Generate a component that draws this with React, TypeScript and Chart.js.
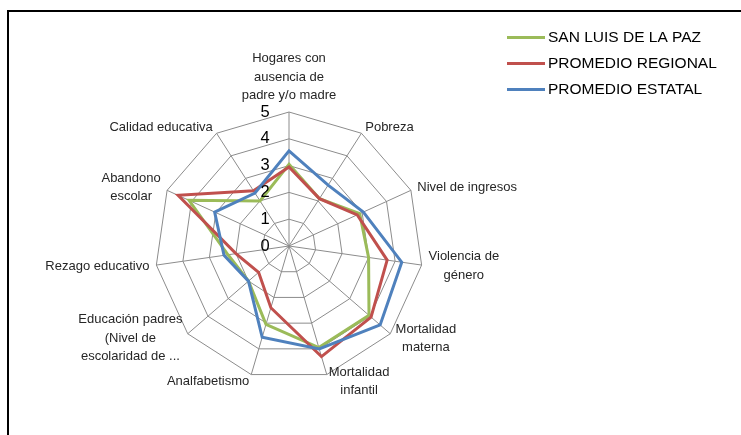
import React, { useEffect, useRef } from "react";
import { Chart, registerables } from "chart.js";

Chart.register(...registerables);

const categories: (string | string[])[] = [
  ["Hogares con", "ausencia de", "padre y/o madre"],
  "Pobreza",
  "Nivel de ingresos",
  ["Violencia de", "género"],
  ["Mortalidad", "materna"],
  ["Mortalidad", "infantil"],
  "Analfabetismo",
  ["Educación padres", "(Nivel de", "escolaridad de ..."],
  "Rezago educativo",
  ["Abandono", "escolar"],
  "Calidad educativa",
];

const seriesNames = ["SAN LUIS DE LA PAZ", "PROMEDIO REGIONAL", "PROMEDIO ESTATAL"];
const sanLuisValues = [3.05, 2.1, 2.9, 3.0, 3.95, 3.95, 3.05, 2.0, 2.3, 4.1, 2.0];
const regionalValues = [2.95, 2.1, 2.8, 3.7, 4.05, 4.3, 2.4, 1.5, 2.0, 4.55, 2.45];
const estatalValues = [3.55, 2.7, 3.05, 4.25, 4.5, 4.0, 3.55, 2.0, 2.45, 3.05, 2.35];
const tickValues = [0, 1, 2, 3, 4, 5];
const seriesColors = ["#9BBB59", "#C0504D", "#4F81BD"];

const FONT = "'Liberation Sans', Arial, sans-serif";

const excelLabels = {
  id: "excelLabels",
  afterDraw(chart: any) {
    const scale = chart.scales.r;
    const ctx: CanvasRenderingContext2D = chart.ctx;
    ctx.save();

    // radial tick labels (left of the vertical axis)
    ctx.font = `16.5px ${FONT}`;
    ctx.fillStyle = "#000";
    ctx.textAlign = "center";
    ctx.textBaseline = "middle";
    tickValues.forEach((v) => {
      const d = scale.getDistanceFromCenterForValue(v);
      ctx.fillText(String(v), scale.xCenter - 24, scale.yCenter - d);
    });

    // category labels
    ctx.font = `13px ${FONT}`;
    ctx.fillStyle = "#262626";
    const lh = 18.5;
    categories.forEach((lab, i) => {
      const lines = Array.isArray(lab) ? lab : [lab];
      const pos = scale.getPointPosition(i, scale.drawingArea + 7);
      const bw = Math.max(...lines.map((l) => ctx.measureText(l).width));
      const bh = lines.length * lh;
      const deg = (scale.getIndexAngle(i) * 180) / Math.PI;
      let left: number;
      let top: number;
      if (deg < 1 || deg > 359) {
        left = pos.x - bw / 2;
        top = pos.y - bh;
      } else if (deg < 180) {
        left = pos.x;
        top = pos.y - bh / 2;
      } else {
        left = pos.x - bw;
        top = pos.y - bh / 2;
      }
      ctx.textAlign = "center";
      ctx.textBaseline = "middle";
      lines.forEach((l, k) => ctx.fillText(l, left + bw / 2, top + lh * (k + 0.5)));
    });

    // legend
    ctx.font = `15.5px ${FONT}`;
    ctx.textAlign = "left";
    ctx.textBaseline = "middle";
    chart.data.datasets.forEach((ds: any, k: number) => {
      const y = 37.5 + k * 26;
      ctx.strokeStyle = ds.borderColor;
      ctx.lineWidth = 3;
      ctx.beginPath();
      ctx.moveTo(507, y);
      ctx.lineTo(545, y);
      ctx.stroke();
      ctx.fillStyle = "#000";
      ctx.fillText(ds.label, 548, y);
    });
    ctx.restore();
  },
};

export default function App() {
  const ref = useRef<HTMLCanvasElement | null>(null);

  useEffect(() => {
    if (!ref.current) return;
    const seriesValues = [sanLuisValues, regionalValues, estatalValues];
    const chart = new Chart(ref.current, {
      type: "radar",
      data: {
        labels: categories as any,
        datasets: seriesNames.map((name, k) => ({
          label: name,
          data: seriesValues[k],
          borderColor: seriesColors[k],
          backgroundColor: "transparent",
          borderWidth: 3,
          fill: false,
          pointRadius: 0,
          pointHoverRadius: 0,
          tension: 0,
          order: 2 - k,
        })),
      },
      options: {
        responsive: false,
        animation: false,
        devicePixelRatio: 1,
        layout: { padding: { left: 155, right: 318, top: 112, bottom: 55 } },
        plugins: {
          legend: { display: false },
          tooltip: { enabled: false },
          title: { display: false },
        },
        scales: {
          r: {
            min: 0,
            max: 5,
            ticks: { stepSize: 1, display: false },
            grid: { color: "#8c8c8c", lineWidth: 1 },
            angleLines: { color: "#8c8c8c", lineWidth: 1 },
            pointLabels: { display: false },
          },
        },
      },
      plugins: [excelLabels],
    });
    return () => chart.destroy();
  }, []);

  return (
    <div style={{ position: "fixed", left: 0, top: 0, width: 741, height: 435, background: "#fff" }}>
      <div
        style={{
          position: "absolute",
          left: 7,
          top: 10,
          right: 0,
          bottom: 0,
          borderLeft: "2px solid #000",
          borderTop: "2px solid #000",
        }}
      />
      <canvas ref={ref} width={741} height={435} style={{ position: "absolute", left: 0, top: 0 }} />
    </div>
  );
}
